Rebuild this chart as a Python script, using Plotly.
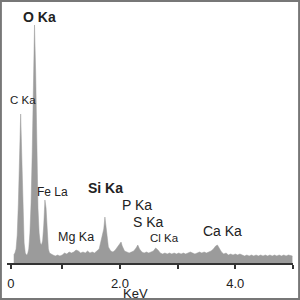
import plotly.graph_objects as go

# EDS spectrum (energy in keV, counts in arbitrary units)
energy_low = [0.16, 0.18, 0.20, 0.22, 0.24, 0.26, 0.28, 0.30, 0.32, 0.34, 0.36, 0.38,
              0.40, 0.42, 0.44, 0.46, 0.48, 0.50, 0.52, 0.54, 0.56, 0.58, 0.60, 0.62,
              0.64, 0.66, 0.68, 0.70, 0.72, 0.74, 0.76, 0.78, 0.80]
counts_low = [8, 10, 14, 28, 60, 120, 149, 105, 50, 20, 10, 8,
              9, 14, 30, 60, 110, 175, 238, 190, 110, 55, 30, 20,
              18, 22, 38, 63, 55, 30, 14, 10, 9]

energy_high = [0.84, 0.88, 0.92, 0.96, 1.00, 1.04, 1.08, 1.12, 1.16, 1.20, 1.24, 1.28,
               1.32, 1.36, 1.40, 1.44, 1.48, 1.52, 1.56, 1.60, 1.64, 1.68, 1.72, 1.74,
               1.76, 1.80, 1.84, 1.88, 1.92, 1.96, 2.00, 2.02, 2.04, 2.08, 2.12, 2.16,
               2.20, 2.24, 2.28, 2.31, 2.34, 2.38, 2.42, 2.46, 2.50, 2.54, 2.58, 2.62,
               2.66, 2.70, 2.74, 2.78, 2.82, 2.86, 2.90, 2.94, 2.98, 3.02, 3.06, 3.10,
               3.14, 3.18, 3.22, 3.26, 3.30, 3.34, 3.38, 3.42, 3.46, 3.50, 3.54, 3.58,
               3.62, 3.66, 3.69, 3.72, 3.76, 3.80, 3.84, 3.88, 3.92, 3.96, 4.00, 4.04,
               4.08, 4.12, 4.16, 4.20, 4.24, 4.28, 4.32, 4.36, 4.40, 4.44, 4.48, 4.52,
               4.56, 4.60, 4.64, 4.68, 4.72, 4.76, 4.80, 4.84, 4.88, 4.92, 4.96, 4.99]
counts_high = [8, 7, 8, 7, 8, 10, 9, 11, 10, 11, 13, 12,
               10, 11, 10, 12, 10, 11, 10, 12, 14, 24, 34, 46,
               36, 16, 12, 11, 13, 16, 19, 21, 17, 12, 11, 10,
               11, 12, 15, 18, 14, 11, 10, 11, 10, 11, 12, 15,
               13, 10, 9, 10, 9, 10, 9, 10, 9, 10, 9, 10,
               9, 10, 11, 10, 9, 10, 11, 10, 11, 10, 11, 12,
               14, 17, 18, 15, 11, 9, 10, 8, 9, 8, 9, 8,
               9, 8, 7, 8, 7, 8, 7, 8, 7, 8, 7, 8,
               7, 8, 7, 8, 7, 8, 7, 8, 7, 8, 7, 7]

energy = energy_low + energy_high
counts = counts_low + counts_high

tick_vals = [0.11, 1, 2, 3, 4, 5]
tick_text = ["0", "", "2.0", "", "4.0", ""]

# peak labels
labels = ["O Ka", "C Ka", "Fe La", "Si Ka", "P Ka", "S Ka", "Cl Ka", "Ca Ka", "Mg Ka"]
label_x = [39, 22.5, 52, 105.5, 137, 148, 164.5, 222.5, 76]
label_y = [17, 100.5, 192, 188, 205, 222, 238, 231, 237]
label_size = [14, 11.5, 12, 14, 14, 14, 11.5, 14, 12.5]
label_bold = [True, False, False, True, False, False, False, False, False]

fig = go.Figure()
fig.add_trace(go.Scatter(
    x=energy, y=counts, mode="lines", fill="tozeroy",
    line=dict(color="rgb(155,155,155)", width=0.5),
    fillcolor="rgb(155,155,155)", hoverinfo="skip",
))

annotations = []
for t, x, y, s, b in zip(labels, label_x, label_y, label_size, label_bold):
    annotations.append(dict(
        text=f"<b>{t}</b>" if b else t, x=x / 300, y=1 - y / 300,
        xref="paper", yref="paper", xanchor="center", yanchor="middle",
        showarrow=False, font=dict(size=s, color="#222", family="Liberation Sans")))
annotations.append(dict(
    text="KeV", x=135 / 300, y=1 - 293 / 300, xref="paper", yref="paper",
    xanchor="center", yanchor="middle", showarrow=False, borderpad=0,
    font=dict(size=13, color="#222", family="Liberation Sans")))

fig.update_layout(
    width=300, height=300, margin=dict(l=0, r=0, t=0, b=0),
    paper_bgcolor="white", plot_bgcolor="white", showlegend=False,
    font=dict(family="Liberation Sans", color="#222"),
    xaxis=dict(domain=[7 / 300, 293 / 300], range=[0.043, 5.0],
               showgrid=False, zeroline=False, showline=True, linecolor="#333",
               linewidth=2, ticks="outside", ticklen=4, tickwidth=1.5,
               tickcolor="#333", tickvals=tick_vals, ticktext=tick_text,
               ticklabelstandoff=3,
               tickfont=dict(size=13, color="#222")),
    yaxis=dict(domain=[37 / 300, 1], range=[0, 263], visible=False),
    annotations=annotations,
    shapes=[dict(type="rect", xref="paper", yref="paper", x0=0.003, y0=0.003,
                 x1=0.997, y1=0.997, line=dict(color="#777", width=2))],
)

fig.write_html("out.html")
